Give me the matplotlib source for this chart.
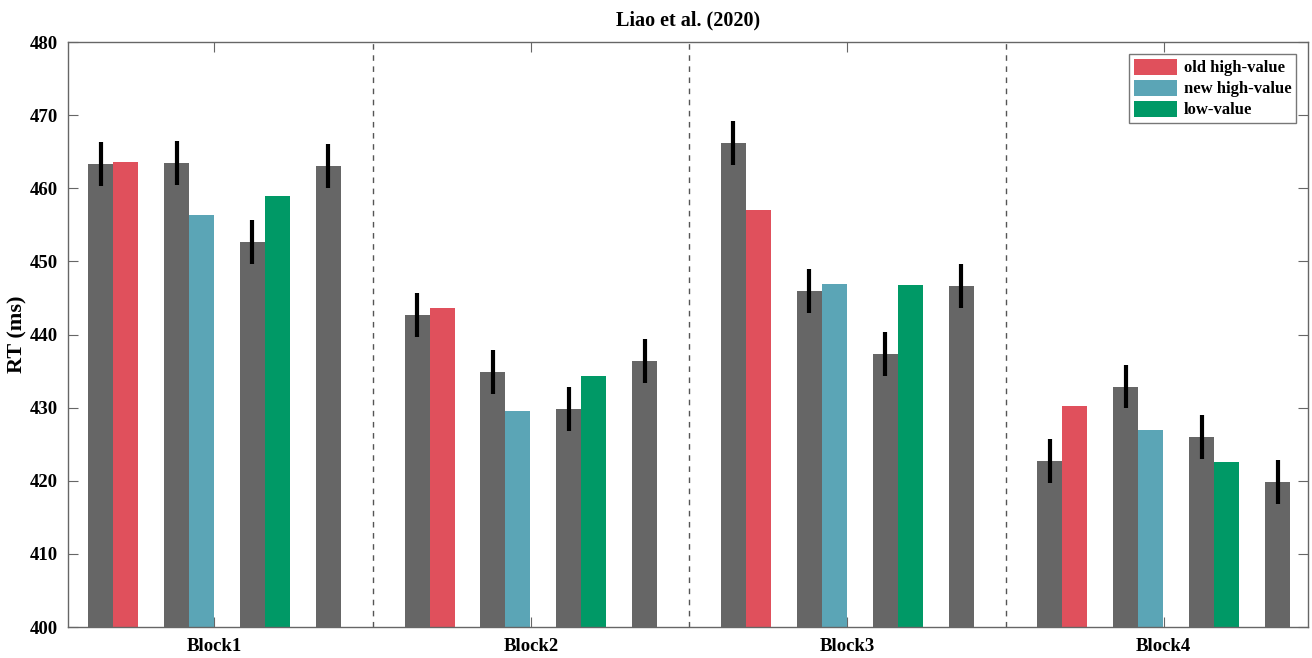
import matplotlib
matplotlib.use("Agg")
from matplotlib import pyplot as plt
import numpy as np

plt.rcParams['font.family'] = ['Liberation Serif', 'DejaVu Serif']
plt.rcParams['font.weight'] = 'bold'

blocks = ["Block1", "Block2", "Block3", "Block4"]
# four gray bars per block
gray_vals = [[463.3, 463.5, 452.7, 463.1],
             [442.7, 434.9, 429.8, 436.4],
             [466.2, 446.0, 437.3, 446.7],
             [422.7, 432.9, 426.0, 419.8]]
gray_err = [[3.0, 3.0, 3.0, 3.0],
            [3.0, 3.0, 3.0, 3.0],
            [3.0, 3.0, 3.0, 3.0],
            [3.0, 3.0, 3.0, 3.0]]
old_high = [463.6, 443.7, 457.1, 430.2]
new_high = [456.3, 429.5, 446.9, 426.9]
low_val = [459.0, 434.3, 446.8, 422.6]

gray_c = '#666666'
red_c = '#E0505C'
blue_c = '#5BA5B6'
green_c = '#009966'

w = 0.079
offs = [-0.36, -0.12, 0.12, 0.36]

fig = plt.figure(figsize=(13.12, 6.58), dpi=100)
ax = fig.add_axes([0.0518, 0.047, 0.945, 0.889])

x = np.arange(1, len(blocks) + 1)
for k in range(4):
    g = [gray_vals[b][k] for b in range(4)]
    e = [gray_err[b][k] for b in range(4)]
    ax.bar(x + offs[k], np.array(g) - 400, w, bottom=400, color=gray_c, zorder=2)
    ax.errorbar(x + offs[k], g, yerr=e, fmt='none', ecolor='black', elinewidth=3, capsize=0, zorder=3)

ax.bar(x + offs[0] + w, np.array(old_high) - 400, w, bottom=400, color=red_c, label='old high-value', zorder=2)
ax.bar(x + offs[1] + w, np.array(new_high) - 400, w, bottom=400, color=blue_c, label='new high-value', zorder=2)
ax.bar(x + offs[2] + w, np.array(low_val) - 400, w, bottom=400, color=green_c, label='low-value', zorder=2)

for d in [1.5, 2.5, 3.5]:
    ax.axvline(d, color='#555555', linestyle=(0, (4, 4)), linewidth=1, zorder=1)

ax.set_xlim(0.537, 4.455)
ax.set_ylim(400, 480)
ax.set_yticks(np.arange(400, 481, 10))
ax.set_xticks(x)
ax.set_xticklabels(blocks, fontsize=13.5, fontweight='bold')
ax.tick_params(axis='y', labelsize=13.5, direction='in', length=7, right=True, color='#666666', pad=7)
ax.tick_params(axis='x', direction='in', length=7, top=True, color='#666666', pad=8)
for lab in ax.get_yticklabels():
    lab.set_fontweight('bold')
for s in ax.spines.values():
    s.set_color('#666666')
    s.set_linewidth(1)

ax.set_ylabel("RT (ms)", fontsize=16, fontweight='bold', labelpad=2)
ax.set_title("Liao et al. (2020)", fontsize=14.5, fontweight='bold', pad=12)

leg = ax.legend(loc='upper right', prop={'weight': 'bold', 'size': 12},
                frameon=True, fancybox=False, edgecolor='#555555', handlelength=2.6,
                handleheight=1.1, borderpad=0.3, labelspacing=0.2, handletextpad=0.4,
                borderaxespad=0.7)
leg.get_frame().set_linewidth(1)

fig.savefig("out.png", dpi=100)
